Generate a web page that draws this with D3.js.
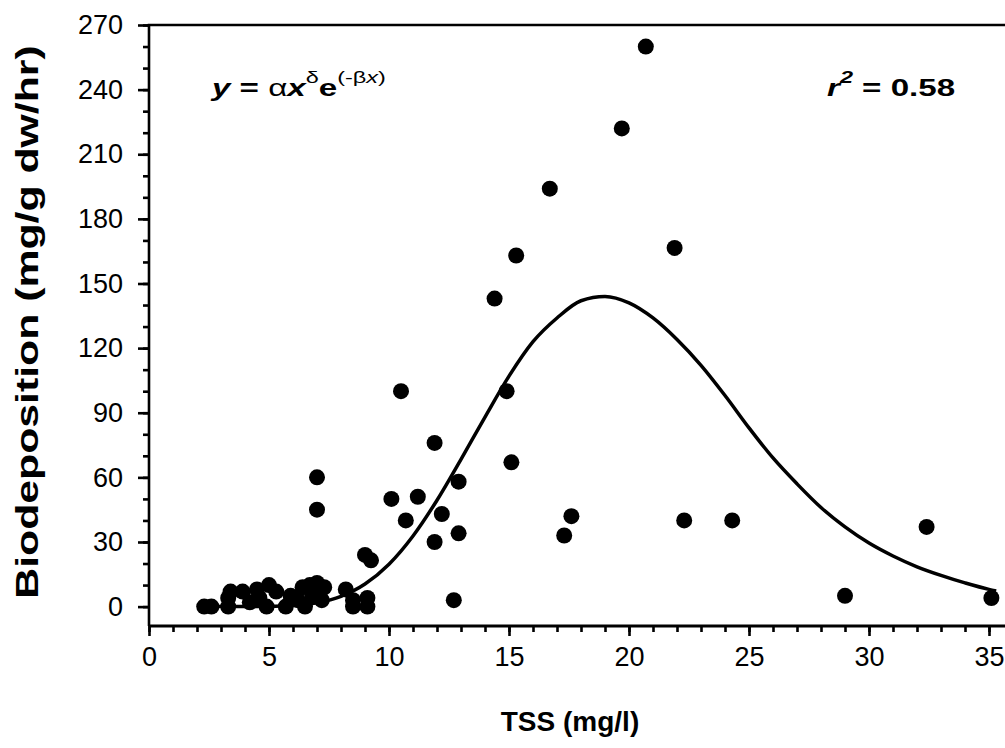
<!DOCTYPE html>
<html>
<head>
<meta charset="utf-8">
<script src="https://cdn.jsdelivr.net/npm/d3@7"></script>
<style>
    body { margin: 0; background: #fff; }
    svg { display: block; font-family: 'Liberation Sans', Arial, sans-serif; }
    .axis text { font-size: 27px; fill: #000; }
    .axis line { stroke: #000; stroke-width: 2.6; }
    .axis path { display: none; }
    .title { font-weight: bold; }
</style>
</head>
<body>
<div id="chart"></div>
<script>
// measured points (TSS mg/l, biodeposition mg/g dw/hr)
const tss = [
    2.3, 2.6, 3.3, 3.3, 3.4, 3.9, 4.2, 4.5, 4.6, 4.9, 5.0, 5.3, 5.7, 5.9, 6.2, 6.4,
    6.5, 6.7, 6.8, 7.0, 7.0, 7.2, 7.3, 7.0, 7.0, 8.2, 8.5, 8.5, 9.1, 9.1, 9.0, 9.25,
    10.1, 10.5, 10.7, 11.2, 11.9, 11.9, 12.2, 12.9, 12.9, 12.7, 14.4, 14.9, 15.1, 15.3,
    16.7, 17.3, 17.6, 19.7, 20.7, 21.9, 22.3, 24.3, 29.0, 32.4, 35.1
];
const biodep = [
    0, 0, 0, 4, 7, 7, 2, 8, 4, 0, 10, 7, 0, 5, 3, 9,
    0, 10, 5, 11, 7, 3, 9, 45, 60, 8, 3, 0, 4, 0, 24, 21.5,
    50, 100, 40, 51, 76, 30, 43, 58, 34, 3, 143, 100, 67, 163,
    194, 33, 42, 222, 260, 166.5, 40, 40, 5, 37, 4
];

// fitted curve
const fitTss = [2.3, 5, 6, 7, 8, 9, 10, 11, 12, 13, 14, 15, 16, 17, 18, 19, 20, 21, 22, 23,
    24, 25, 26, 27, 28, 29, 30, 31, 32, 33, 34, 35, 35.3];
const fitBio = [0, 0.1, 0.5, 1.8, 4.8, 10.5, 19.7, 32.8, 49.4, 68.4, 88, 107, 123, 134, 142, 144, 141, 134, 124, 112,
    98, 83, 69, 57, 46, 37, 29.5, 23.5, 18.5, 14.5, 11, 8, 7.3];

const xTicks = [0, 5, 10, 15, 20, 25, 30, 35];
const yTicks = [0, 30, 60, 90, 120, 150, 180, 210, 240, 270];

const width = 1005, height = 748;
const margin = { top: 25, left: 149, bottom: 626, right: 1013 };

let svg = d3.select('#chart')
    .append('svg')
    .attr('width', width)
    .attr('height', height);

let x = d3.scaleLinear().domain([0, 36]).range([margin.left, margin.right]);
let y = d3.scaleLinear().domain([-9, 270]).range([margin.bottom, margin.top]);

// minor ticks
svg.append('g')
    .attr('class', 'axis')
    .attr('transform', `translate(0,${margin.bottom})`)
    .call(d3.axisBottom(x).tickValues(d3.range(0, 36, 1)).tickSize(6).tickSizeOuter(0).tickFormat(''));

svg.append('g')
    .attr('class', 'axis')
    .attr('transform', `translate(${margin.left},0)`)
    .call(d3.axisLeft(y).tickValues(d3.range(0, 271, 10)).tickSize(6).tickSizeOuter(0).tickFormat(''));

// major ticks + labels
svg.append('g')
    .attr('class', 'axis')
    .attr('transform', `translate(0,${margin.bottom})`)
    .call(d3.axisBottom(x).tickValues(xTicks).tickSize(10).tickPadding(11).tickSizeOuter(0));

svg.append('g')
    .attr('class', 'axis')
    .attr('transform', `translate(${margin.left},0)`)
    .call(d3.axisLeft(y).tickValues(yTicks).tickSize(11).tickPadding(15).tickSizeOuter(0));

// frame lines
svg.append('path')
    .attr('d', `M${margin.left},${margin.bottom}V${margin.top}H${margin.right}`)
    .attr('fill', 'none')
    .attr('stroke', '#000')
    .attr('stroke-width', 2.6);

svg.append('line')
    .attr('x1', margin.left).attr('x2', margin.right)
    .attr('y1', margin.bottom).attr('y2', margin.bottom)
    .attr('stroke', '#000')
    .attr('stroke-width', 2.8);

// points
let points = tss.map((d, i) => ({ tss: d, bio: biodep[i] }));

svg.append('g')
    .selectAll('circle')
    .data(points)
    .enter()
    .append('circle')
    .attr('cx', (d) => x(d.tss))
    .attr('cy', (d) => y(d.bio))
    .attr('r', 8)
    .attr('fill', '#000');

// fitted curve
let fit = fitTss.map((d, i) => ({ tss: d, bio: fitBio[i] }));

let line = d3.line()
    .curve(d3.curveMonotoneX)
    .x((d) => x(d.tss))
    .y((d) => y(d.bio));

svg.append('path')
    .datum(fit)
    .attr('d', line)
    .attr('fill', 'none')
    .attr('stroke', '#000')
    .attr('stroke-width', 3.5);

// axis titles
svg.append('text')
    .attr('class', 'title')
    .attr('text-anchor', 'middle')
    .attr('x', 570)
    .attr('y', 731)
    .style('font-size', '28px')
    .text('TSS (mg/l)');

svg.append('text')
    .attr('class', 'title')
    .attr('text-anchor', 'middle')
    .attr('transform', 'translate(38,322) rotate(-90) scale(1.38,1)')
    .style('font-size', '31px')
    .text('Biodeposition (mg/g dw/hr)');

// equation (wide glyphs in the original)
let eq = svg.append('text')
    .attr('transform', 'translate(212,96) scale(1.38,1)')
    .style('font-size', '24px')
    .style('font-weight', 'bold');

eq.append('tspan').style('font-style', 'italic').text('y');
eq.append('tspan').text(' = ');
eq.append('tspan').style('font-weight', 'normal').text('α');
eq.append('tspan').style('font-style', 'italic').text('x');
eq.append('tspan').attr('dy', -13).style('font-size', '17px').style('font-weight', 'normal').text('δ');
eq.append('tspan').attr('dy', 13).text('e');
eq.append('tspan').attr('dy', -13).style('font-size', '17px').style('font-weight', 'normal').text('(-β');
eq.append('tspan').style('font-size', '17px').style('font-weight', 'normal').style('font-style', 'italic').text('x');
eq.append('tspan').style('font-size', '17px').style('font-weight', 'normal').text(')');

let r2 = svg.append('text')
    .attr('transform', 'translate(827,96) scale(1.38,1)')
    .style('font-size', '24px')
    .style('font-weight', 'bold');

r2.append('tspan').style('font-style', 'italic').text('r');
r2.append('tspan').attr('dy', -13).style('font-size', '17px').style('font-style', 'italic').text('2');
r2.append('tspan').attr('dy', 13).text(' = 0.58');
</script>
</body>
</html>
